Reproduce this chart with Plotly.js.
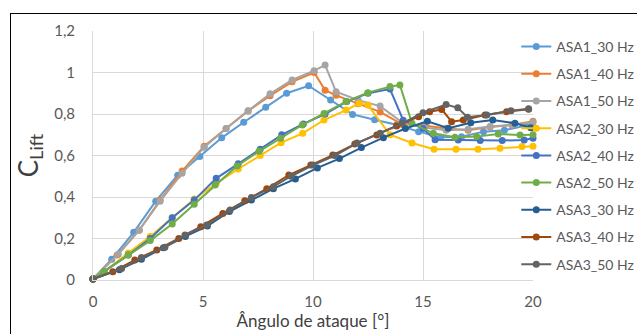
<!DOCTYPE html>
<html>
<head>
<meta charset="utf-8">
<script src="https://cdn.plot.ly/plotly-3.0.1.min.js"></script>
<style>
  html, body { margin: 0; padding: 0; background: #fff; }
  #frame { position: absolute; left: 10px; top: 13px; width: 700px; height: 400px;
           border-top: 1px solid #000; border-left: 1px solid #000; pointer-events: none; }
  #chart { width: 637px; height: 334px; }
</style>
</head>
<body>
<div id="chart"></div>
<div id="frame"></div>
<script>
const seriesNames = ["ASA1_30 Hz","ASA1_40 Hz","ASA1_50 Hz","ASA2_30 Hz","ASA2_40 Hz","ASA2_50 Hz","ASA3_30 Hz","ASA3_40 Hz","ASA3_50 Hz"];
const seriesColors = ["#5B9BD5","#ED7D31","#A5A5A5","#FFC000","#4472C4","#70AD47","#255E91","#9E480E","#636363"];

const asa1_30_x = [0,0.85,1.85,2.85,3.85,4.85,5.85,6.85,7.85,8.8,9.8,10.8,11.8,12.8,13.8,14.8,15.8,16.75,17.75,18.7,19.7];
const asa1_30_y = [0.005,0.10,0.23,0.38,0.505,0.595,0.685,0.76,0.832,0.90,0.936,0.867,0.798,0.772,0.748,0.715,0.688,0.69,0.715,0.722,0.745];

const asa1_40_x = [0,1.1,2.1,3.05,4.05,5.05,6.05,7.05,8.05,9.05,10.05,10.55,11.05,12.05,13.05,14.05,15.05,16.05,17.05,18.05,19.05,20];
const asa1_40_y = [0.005,0.12,0.24,0.385,0.525,0.645,0.73,0.815,0.888,0.955,1.0,0.915,0.89,0.85,0.81,0.75,0.745,0.73,0.722,0.737,0.747,0.765];

const asa1_50_x = [0,1.15,2.1,3.05,4.05,5.05,6.05,7.05,8.05,9.05,10.05,10.55,11.05,12.05,13.05,14.05,15.05,16.05,17.05,18.05,19.05,20];
const asa1_50_y = [0.005,0.124,0.24,0.38,0.514,0.64,0.73,0.816,0.897,0.964,1.009,1.036,0.907,0.867,0.838,0.76,0.735,0.722,0.726,0.74,0.748,0.76];

const asa2_30_x = [0,0.5,1.6,2.6,3.6,4.6,5.6,6.6,7.6,8.55,9.53,10.5,11.5,12.1,12.5,13.5,14.5,15.5,16.5,17.5,18.5,19.5,20];
const asa2_30_y = [0.005,0.04,0.13,0.21,0.30,0.39,0.465,0.535,0.60,0.662,0.707,0.771,0.819,0.851,0.843,0.70,0.66,0.63,0.63,0.63,0.635,0.643,0.645];

const asa2_40_x = [0,0.5,1.6,2.6,3.6,4.6,5.6,6.6,7.6,8.58,9.56,10.55,11.53,12.5,13.5,14.1,15.0,15.55,16.6,17.6,18.6,19.6,20];
const asa2_40_y = [0.005,0.04,0.12,0.20,0.30,0.385,0.49,0.56,0.63,0.70,0.752,0.80,0.86,0.90,0.92,0.77,0.73,0.676,0.675,0.672,0.672,0.675,0.683];

const asa2_50_x = [0,0.5,1.6,2.6,3.6,4.6,5.55,6.55,7.55,8.53,9.51,10.5,11.5,12.49,13.5,13.95,14.5,15.47,16.45,17.44,18.42,19.41,20];
const asa2_50_y = [0.005,0.04,0.12,0.19,0.27,0.365,0.458,0.55,0.62,0.683,0.747,0.803,0.86,0.903,0.932,0.94,0.755,0.707,0.688,0.691,0.704,0.699,0.70];

const asa3_30_x = [0,1.2,2.2,3.2,4.2,5.2,6.2,7.2,8.2,9.2,10.2,11.2,12.2,13.2,14.2,15.2,16.15,17.17,18.17,19.18,19.9];
const asa3_30_y = [0.005,0.05,0.10,0.155,0.21,0.26,0.33,0.385,0.44,0.487,0.54,0.585,0.638,0.686,0.73,0.765,0.731,0.758,0.771,0.755,0.734];

const asa3_40_x = [0,0.9,1.9,2.9,3.9,4.9,5.9,6.9,7.9,8.9,9.9,10.9,11.9,12.9,13.8,14.8,15.3,15.85,16.3,16.83,17.82,18.8,19.8];
const asa3_40_y = [0.005,0.04,0.096,0.145,0.20,0.257,0.321,0.382,0.44,0.506,0.554,0.602,0.655,0.699,0.742,0.787,0.811,0.822,0.763,0.771,0.795,0.811,0.823];

const asa3_50_x = [0,1.3,2.2,3.27,4.18,5.17,6.23,7.2,8.2,9.0,10.0,11.0,12.0,13.05,14.05,15.0,16.05,16.58,17.02,17.9,19.0,19.8];
const asa3_50_y = [0.005,0.055,0.108,0.158,0.217,0.265,0.337,0.398,0.45,0.50,0.554,0.60,0.66,0.707,0.755,0.806,0.846,0.83,0.784,0.795,0.816,0.825];

const xValues = [asa1_30_x,asa1_40_x,asa1_50_x,asa2_30_x,asa2_40_x,asa2_50_x,asa3_30_x,asa3_40_x,asa3_50_x];
const yValues = [asa1_30_y,asa1_40_y,asa1_50_y,asa2_30_y,asa2_40_y,asa2_50_y,asa3_30_y,asa3_40_y,asa3_50_y];

const xTitle = "Ângulo de ataque [°]";
const yTitle = "C<sub>Lift</sub>";

const FONT = "Lato, 'Liberation Sans', sans-serif";

const traces = seriesNames.map((name, i) => ({
  type: "scatter",
  mode: "lines+markers",
  name: name,
  x: xValues[i],
  y: yValues[i],
  line: { color: seriesColors[i], width: 2 },
  marker: { color: seriesColors[i], size: 7, symbol: "circle" },
  cliponaxis: false,
  legendgroup: "g" + i
}));

const layout = {
  width: 637,
  height: 334,
  margin: { l: 93, r: 104, t: 31, b: 54, autoexpand: false },
  paper_bgcolor: "#fff",
  plot_bgcolor: "#fff",
  separators: ",.",
  font: { family: FONT, size: 14, color: "#595959" },
  showlegend: true,
  legend: {
    x: 0.962, xanchor: "left", y: 1.0, yanchor: "top",
    bgcolor: "rgba(0,0,0,0)",
    font: { family: FONT, size: 14, color: "#595959" },
    tracegroupgap: 6,
    itemwidth: 30
  },
  xaxis: {
    range: [0, 20],
    dtick: 5,
    tick0: 0,
    showgrid: true,
    gridcolor: "#D9D9D9",
    gridwidth: 1,
    zeroline: false,
    showline: true,
    linecolor: "#D9D9D9",
    linewidth: 1,
    ticks: "",
    ticklabelstandoff: 8,
    tickfont: { family: FONT, size: 15, color: "#595959" },
    title: { text: xTitle, font: { family: FONT, size: 17, color: "#404040" }, standoff: 4 }
  },
  yaxis: {
    range: [0, 1.2],
    dtick: 0.2,
    tick0: 0,
    showgrid: true,
    gridcolor: "#D9D9D9",
    gridwidth: 1,
    zeroline: false,
    showline: true,
    linecolor: "#D9D9D9",
    linewidth: 1,
    ticks: "",
    ticklabelstandoff: 14,
    tickfont: { family: FONT, size: 15, color: "#595959" },
    title: { text: yTitle, font: { family: FONT, size: 26, color: "#404040" }, standoff: 8 }
  }
};

Plotly.newPlot("chart", traces, layout, { displayModeBar: false, staticPlot: true });
</script>
</body>
</html>
